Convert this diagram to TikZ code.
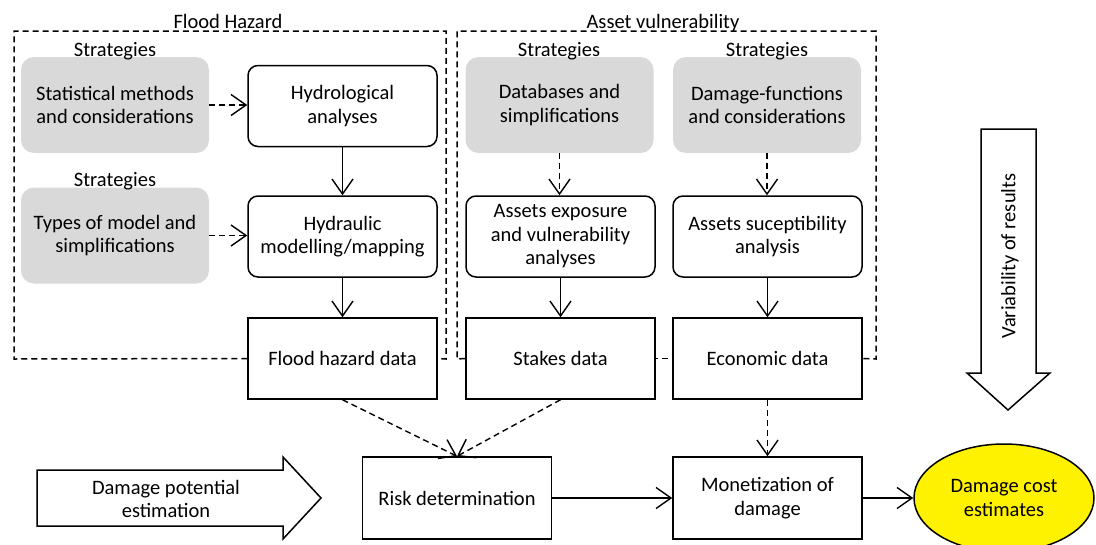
\documentclass[tikz,border=0pt]{standalone}
\usepackage{fontspec}
\setmainfont{Carlito}
\usetikzlibrary{arrows.meta,shapes.geometric}
\tikzset{
  txt/.style={font=\fontsize{20.5}{23.5}\selectfont, align=center, inner sep=0pt},
  strat/.style={txt, fill=black!15, rounded corners=13pt, minimum width=188pt, minimum height=96pt},
  rbox/.style={txt, draw, line width=1.5pt, rounded corners=10pt, minimum width=189pt, minimum height=81pt},
  sbox/.style={txt, draw, line width=1.5pt, minimum width=189pt, minimum height=81pt},
  lbl/.style={txt, anchor=base},
  arr/.style={line width=1.4pt, -{Straight Barb[length=15pt,width=21pt]}},
  darr/.style={arr, dash pattern=on 6pt off 4pt},
  region/.style={line width=1.5pt, dash pattern=on 6pt off 4pt},
  blockarrow/.style={draw, line width=1.5pt, fill=white, line join=miter}
}
\begin{document}
\begin{tikzpicture}[x=1pt,y=-1pt]
\useasboundingbox (0,0) rectangle (1096,544);

% Flood hazard column
\node[strat] (g1) at (115,105) {Statistical methods\\and considerations};
\node[strat] (g2) at (115,235.5) {Types of model and\\simplifications};
\node[rbox] (hydro) at (342.5,106) {Hydrological\\analyses};
\node[rbox] (hydra) at (342.5,236.5) {Hydraulic\\modelling/mapping};
\node[sbox] (fdata) at (342.5,358.5) {Flood hazard data};

\node[lbl] (s1) at (115,56) {Strategies};
\node[lbl] (s2) at (115,186) {Strategies};

% Asset vulnerability columns
\node[strat] (g3) at (559.5,105) {Databases and\\simplifications};
\node[strat] (g4) at (767,105) {Damage-functions\\and considerations};
\node[rbox] (aexp) at (560.5,236.5) {Assets exposure\\and vulnerability\\analyses};
\node[rbox] (asus) at (767.5,236.5) {Assets suceptibility\\analysis};
\node[sbox] (stakes) at (560.5,358.5) {Stakes data};
\node[sbox] (econ) at (767.5,358.5) {Economic data};

\node[lbl] (s3) at (559,56) {Strategies};
\node[lbl] (s4) at (767,56) {Strategies};

% Bottom row
\node[sbox, minimum height=82pt] (risk) at (457,498) {Risk determination};
\node[sbox, minimum height=82pt] (monet) at (767.5,498) {Monetization of\\damage};
\node[txt, ellipse, draw, line width=1.5pt, fill=yellow, minimum width=180pt, minimum height=108pt] (cost) at (1004,498) {Damage cost\\estimates};

% Regions
\coordinate (f1) at (14,359);
\coordinate (f2) at (14,31);
\coordinate (f3) at (446,31);
\coordinate (f4) at (446,359);
\draw[region] (fdata.west) -- (f1) -- (f2) -- (f3) -- (f4) -- (fdata.east);
\node[lbl] (fht) at (228,28) {Flood Hazard};

\coordinate (a1) at (457,359);
\coordinate (a2) at (457,31);
\coordinate (a3) at (876,31);
\coordinate (a4) at (876,359);
\draw[region] (stakes.west) -- (a1) -- (a2) -- (a3) -- (a4) -- (econ.east);
\draw[region, dash phase=-6pt] (stakes.east) -- (econ.west);
\node[lbl] (avt) at (663,28) {Asset vulnerability};

% Connectors
\draw[darr] (g1.east) -- (g1.east -| hydro.west);
\draw[darr] (g2.east) -- (g2.east -| hydra.west);
\draw[arr] (hydro) -- (hydra);
\draw[arr] (hydra) -- (fdata);
\draw[darr] (g3.south) -- (g3.south |- aexp.north);
\draw[darr] (g4.south) -- (g4.south |- asus.north);
\draw[arr] (aexp) -- (stakes);
\draw[arr] (asus) -- (econ);
\draw[darr] (fdata.south) -- (risk.north);
\draw[darr] (stakes.south) -- (risk.north);
\draw[darr] (econ) -- (monet);
\draw[arr] (risk) -- (monet);
\draw[arr] (monet) -- (cost);

% Block arrow: damage potential estimation
\draw[blockarrow] (37,470) -- (283,470) -- (283,457) -- (321,498) -- (283,539) -- (283,526) -- (37,526) -- cycle;
\node[txt] (dpe) at (166,499) {Damage potential\\estimation};

% Block arrow: variability of results
\draw[blockarrow] (981,129) -- (1036,129) -- (1036,373) -- (1050,373) -- (1008,410) -- (967,373) -- (981,373) -- cycle;
\node[txt, rotate=90] (var) at (1010,256) {Variability of results};
\end{tikzpicture}
\end{document}
